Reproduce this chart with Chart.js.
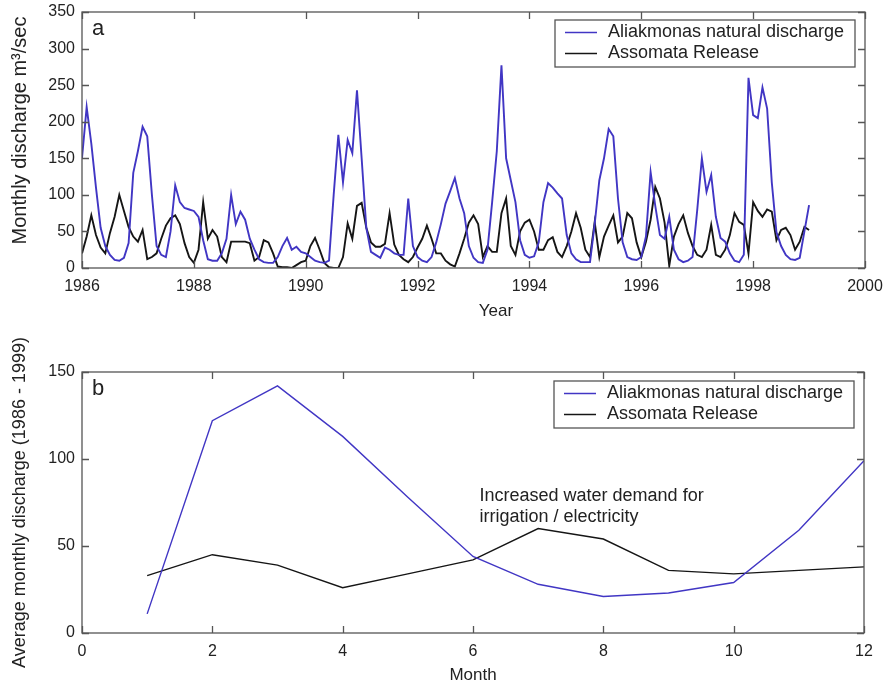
<!DOCTYPE html>
<html>
<head>
    <title>Aliakmonas discharge and Assomata release</title>
    <style>
        body {
            margin: 0;
            background: #fff;
        }

        .panel {
            position: absolute;
            left: 0;
            width: 889px;
        }

        #panelA { top: 0; height: 330px; }
        #panelB { top: 330px; height: 358px; }
    </style>
</head>
<body>
    <div class="panel" id="panelA"><canvas id="chartA"></canvas></div>
    <div class="panel" id="panelB"><canvas id="chartB"></canvas></div>
    <script src="https://cdn.jsdelivr.net/npm/chart.js"></script>
    <script>
        // --- data ---
        const seriesNames = ['Aliakmonas natural discharge', 'Assomata Release'];
        const startYear = 1986;   // first monthly value = January 1986

        // monthly values, one row per year (Jan..Dec), last value = Jan 1999
        const naturalMonthly = [
            150, 220, 170, 110, 55, 30, 18, 11, 10, 14, 34, 130,   // 1986
            160, 193, 180, 100, 30, 18, 15, 50, 113, 90, 82, 80,   // 1987
            78, 70, 38, 12, 10, 10, 20, 40, 100, 60, 77, 66,       // 1988
            40, 25, 12, 8, 7, 7, 15, 30, 41, 25, 29, 22,           // 1989
            20, 15, 10, 8, 7, 10, 100, 182, 117, 175, 157, 243,    // 1990
            150, 55, 22, 18, 14, 28, 25, 20, 18, 18, 95, 30,       // 1991
            15, 10, 8, 15, 35, 60, 88, 105, 123, 95, 75, 30,       // 1992
            14, 8, 7, 25, 90, 160, 277, 150, 120, 90, 38, 18,      // 1993
            14, 16, 35, 90, 116, 110, 102, 95, 45, 20, 12, 8,      // 1994
            8, 8, 60, 120, 150, 190, 180, 95, 35, 15, 12, 11,      // 1995
            15, 43, 131, 85, 45, 40, 70, 25, 12, 8, 10, 15,        // 1996
            79, 150, 104, 127, 70, 41, 36, 20, 10, 8, 18, 260,     // 1997
            209, 205, 247, 218, 117, 49, 30, 18, 12, 11, 14, 50,   // 1998
            86                                                     // 1999
        ];
        const releaseMonthly = [
            20, 43, 72, 45, 28, 20, 48, 70, 100, 78, 56, 43,       // 1986
            36, 52, 12, 15, 20, 40, 58, 68, 72, 60, 34, 15,        // 1987
            7, 25, 90, 40, 52, 43, 15, 8, 36, 36, 36, 36,          // 1988
            34, 10, 15, 38, 35, 20, 2, 1, 1, 0, 4, 8,              // 1989
            10, 30, 41, 25, 7, 1, 0, 0, 15, 61, 40, 85,            // 1990
            89, 55, 35, 29, 29, 33, 75, 32, 18, 12, 8, 15,         // 1991
            28, 40, 58, 40, 20, 20, 10, 5, 2, 20, 40, 62,          // 1992
            72, 60, 15, 30, 22, 22, 75, 95, 30, 18, 50, 62,        // 1993
            66, 50, 25, 25, 38, 42, 22, 15, 30, 50, 75, 55,        // 1994
            25, 15, 63, 15, 43, 58, 72, 35, 43, 75, 68, 35,        // 1995
            15, 36, 66, 111, 95, 62, 3, 43, 60, 72, 48, 30,        // 1996
            18, 15, 25, 59, 18, 15, 25, 45, 75, 63, 59, 20,        // 1997
            90, 78, 70, 80, 77, 38, 52, 55, 45, 25, 36, 56,        // 1998
            52                                                     // 1999
        ];

        // panel b: average per calendar month (1986 - 1999)
        const months = [1, 2, 3, 4, 5, 6, 7, 8, 9, 10, 11, 12];
        const naturalAverage = [11, 122, 142, 113, 78, 44, 28, 21, 23, 29, 59, 99];
        const releaseAverage = [33, 45, 39, 26, 34, 42, 60, 54, 36, 34, 36, 38];

        const yearTicks = [1986, 1988, 1990, 1992, 1994, 1996, 1998, 2000];
        const annotationLines = ['Increased water demand for', 'irrigation / electricity'];

        const BLUE = '#4136c4';
        const BLACK = '#151515';
        const FONT = '"Liberation Sans", Arial, sans-serif';
        const TEXT = '#222';

        // inward ticks, box, panel letter, legend and notes (MATLAB look)
        const framePlugin = {
            id: 'frame',
            afterDraw(chart, args, opts) {
                const ctx = chart.ctx;
                const a = chart.chartArea;
                const xs = chart.scales.x, ys = chart.scales.y;
                ctx.save();
                ctx.strokeStyle = '#555';
                ctx.lineWidth = 1.3;
                ctx.strokeRect(a.left, a.top, a.right - a.left, a.bottom - a.top);
                ctx.beginPath();
                xs.ticks.forEach(t => {
                    const px = Math.round(xs.getPixelForValue(t.value)) + 0.5;
                    ctx.moveTo(px, a.bottom); ctx.lineTo(px, a.bottom - 7);
                    ctx.moveTo(px, a.top); ctx.lineTo(px, a.top + 7);
                });
                ys.ticks.forEach(t => {
                    const py = Math.round(ys.getPixelForValue(t.value)) + 0.5;
                    ctx.moveTo(a.left, py); ctx.lineTo(a.left + 7, py);
                    ctx.moveTo(a.right, py); ctx.lineTo(a.right - 7, py);
                });
                ctx.stroke();

                // panel letter
                ctx.fillStyle = TEXT;
                ctx.font = '22px ' + FONT;
                ctx.textBaseline = 'middle';
                ctx.textAlign = 'left';
                ctx.fillText(opts.letter, a.left + 10, a.top + 17);

                // axis titles drawn here when they sit off-centre
                if (opts.xTitle) {
                    ctx.font = '17px ' + FONT;
                    ctx.textAlign = 'center';
                    ctx.fillText(opts.xTitle.text, xs.getPixelForValue(opts.xTitle.x), a.bottom + opts.xTitle.dy);
                }
                if (opts.yTitle) {
                    ctx.save();
                    ctx.font = opts.yTitle.size + 'px ' + FONT;
                    ctx.textAlign = 'center';
                    ctx.translate(opts.yTitle.cx, ys.getPixelForValue(opts.yTitle.y));
                    ctx.rotate(-Math.PI / 2);
                    ctx.fillText(opts.yTitle.text, 0, 0);
                    ctx.restore();
                }
                ctx.textAlign = 'left';

                // legend box
                const lx = a.right - 310, ly = a.top + opts.legendTop, lw = 300, lh = 47;
                ctx.fillStyle = '#fff';
                ctx.fillRect(lx, ly, lw, lh);
                ctx.strokeStyle = '#555';
                ctx.lineWidth = 1.3;
                ctx.strokeRect(lx, ly, lw, lh);
                ctx.font = '18px ' + FONT;
                chart.data.datasets.forEach((ds, i) => {
                    const rowY = ly + 12.5 + i * 21;
                    ctx.strokeStyle = ds.borderColor;
                    ctx.lineWidth = 1.5;
                    ctx.beginPath();
                    ctx.moveTo(lx + 10, rowY);
                    ctx.lineTo(lx + 42, rowY);
                    ctx.stroke();
                    ctx.fillStyle = TEXT;
                    ctx.fillText(ds.label, lx + 53, rowY);
                });

                // note
                if (opts.note) {
                    ctx.fillStyle = TEXT;
                    ctx.font = '18px ' + FONT;
                    opts.note.lines.forEach((txt, i) => {
                        ctx.fillText(txt, xs.getPixelForValue(opts.note.x),
                            ys.getPixelForValue(opts.note.y) + i * 21.5);
                    });
                }
                ctx.restore();
            }
        };

        function axis(min, max, step, titleText, fitSize, horizontal, titlePad, titleSize) {
            return {
                type: 'linear',
                min: min,
                max: max,
                grid: { display: false, drawTicks: false },
                border: { display: false },
                ticks: {
                    stepSize: step,
                    padding: horizontal ? 9 : 7,
                    color: TEXT,
                    font: { family: FONT, size: 16 },
                    maxRotation: 0,
                    autoSkip: false,
                    callback: v => String(v)
                },
                title: {
                    display: titleText !== '',
                    text: titleText,
                    color: TEXT,
                    font: { family: FONT, size: titleSize || 17 },
                    padding: titlePad
                },
                afterFit(scale) {
                    if (horizontal) scale.height = fitSize;
                    else scale.width = fitSize;
                    // let layout padding alone decide the plot box
                    scale.paddingLeft = 0;
                    scale.paddingRight = 0;
                    scale.paddingTop = 0;
                    scale.paddingBottom = 0;
                }
            };
        }

        const baseOptions = {
            responsive: true,
            maintainAspectRatio: false,
            animation: false,
            events: [],
            elements: { point: { radius: 0 }, line: { tension: 0 } },
            plugins: { legend: { display: false }, tooltip: { enabled: false } }
        };

        // panel a: monthly series
        const monthX = i => startYear + i / 12;
        new Chart(document.getElementById('chartA'), {
            type: 'line',
            data: {
                datasets: [
                    {
                        label: seriesNames[0],
                        data: naturalMonthly.map((v, i) => ({ x: monthX(i), y: v })),
                        borderColor: BLUE,
                        borderWidth: 1.9
                    },
                    {
                        label: seriesNames[1],
                        data: releaseMonthly.map((v, i) => ({ x: monthX(i), y: v })),
                        borderColor: BLACK,
                        borderWidth: 1.9
                    }
                ]
            },
            options: Object.assign({}, baseOptions, {
                layout: { padding: { left: 0, top: 12, right: 24, bottom: 0 } },
                scales: {
                    x: axis(yearTicks[0], yearTicks[yearTicks.length - 1], 2, '', 62, true, 0),
                    y: axis(0, 350, 50, '', 82, false, 0)
                },
                plugins: Object.assign({}, baseOptions.plugins, {
                    frame: {
                        letter: 'a',
                        legendTop: 8,
                        xTitle: { text: 'Year', x: 1993.4, dy: 43 },
                        yTitle: { text: 'Monthly discharge m\u00B3/sec', y: 188, cx: 20, size: 20 }
                    }
                })
            }),
            plugins: [framePlugin]
        });

        // panel b: average monthly
        new Chart(document.getElementById('chartB'), {
            type: 'line',
            data: {
                datasets: [
                    {
                        label: seriesNames[0],
                        data: months.map((m, i) => ({ x: m, y: naturalAverage[i] })),
                        borderColor: BLUE,
                        borderWidth: 1.4
                    },
                    {
                        label: seriesNames[1],
                        data: months.map((m, i) => ({ x: m, y: releaseAverage[i] })),
                        borderColor: BLACK,
                        borderWidth: 1.4
                    }
                ]
            },
            options: Object.assign({}, baseOptions, {
                layout: { padding: { left: 0, top: 42, right: 25, bottom: 0 } },
                scales: {
                    x: axis(0, 12, 2, 'Month', 55, true, { top: 0, bottom: 2 }),
                    y: axis(0, 150, 50, 'Average monthly discharge (1986 - 1999)', 82, false, { top: 9, bottom: 0 }, 18)
                },
                plugins: Object.assign({}, baseOptions.plugins, {
                    frame: {
                        letter: 'b',
                        legendTop: 9,
                        note: { lines: annotationLines, x: 6.1, y: 79 }
                    }
                })
            }),
            plugins: [framePlugin]
        });
    </script>
</body>
</html>
